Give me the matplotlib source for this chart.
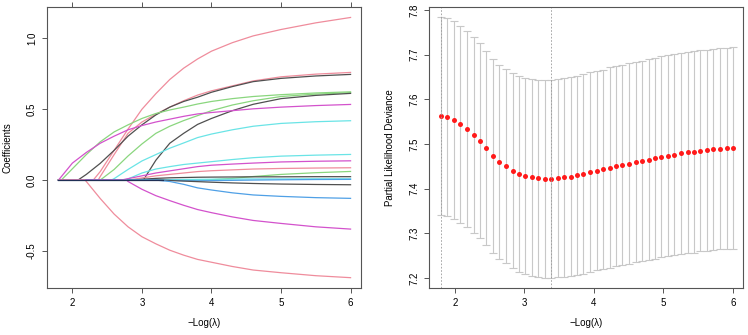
import matplotlib
matplotlib.use('Agg')
import matplotlib.pyplot as plt

plt.rcParams['font.family'] = ['Liberation Sans', 'DejaVu Sans']

# common -log(lambda) grid for the coefficient paths
grid = [1.8, 2.0, 2.2, 2.4, 2.6, 2.8, 3.0, 3.2, 3.4, 3.6, 3.8, 4.0, 4.3, 4.6, 5.0, 5.5, 6.0]

# entry point, colour name and values on grid after entry, for each variable
coef_entry = [2.30, 2.37, 2.08, 1.84, 2.40, 3.02, 1.80, 2.56, 2.74, 2.70, 2.80,
              3.90, 2.90, 3.30, 3.30, 3.20, 3.20, 2.78, 2.18]
coef_color = ['red', 'red', 'black', 'green', 'green', 'black', 'magenta', 'cyan', 'cyan',
              'magenta', 'red', 'green', 'black', 'cyan', 'blue', 'black', 'blue', 'magenta', 'red']
coef_vals = [
    [0.06, 0.21, 0.36, 0.50, 0.61, 0.71, 0.79, 0.855, 0.91, 0.97, 1.018, 1.063, 1.11, 1.148],
    [0.025, 0.18, 0.33, 0.41, 0.465, 0.515, 0.56, 0.60, 0.63, 0.665, 0.70, 0.729, 0.748, 0.760],
    [0.04, 0.118, 0.21, 0.31, 0.39, 0.46, 0.515, 0.555, 0.585, 0.62, 0.66, 0.695, 0.718, 0.735, 0.746],
    [0.08, 0.18, 0.27, 0.34, 0.39, 0.435, 0.47, 0.495, 0.515, 0.537, 0.555, 0.575, 0.59, 0.603, 0.615, 0.623],
    [0.075, 0.17, 0.255, 0.33, 0.38, 0.42, 0.455, 0.49, 0.53, 0.56, 0.59, 0.607, 0.617],
    [0.14, 0.26, 0.33, 0.393, 0.435, 0.49, 0.535, 0.575, 0.598, 0.612],
    [0.12, 0.195, 0.26, 0.31, 0.355, 0.385, 0.41, 0.43, 0.45, 0.467, 0.477, 0.49, 0.503, 0.515, 0.526, 0.534],
    [0.01, 0.075, 0.135, 0.18, 0.225, 0.262, 0.30, 0.325, 0.355, 0.38, 0.40, 0.412, 0.419],
    [0.008, 0.05, 0.078, 0.095, 0.11, 0.12, 0.13, 0.145, 0.158, 0.169, 0.176, 0.181],
    [0.01, 0.03, 0.05, 0.065, 0.08, 0.095, 0.105, 0.113, 0.12, 0.128, 0.133, 0.136],
    [0.015, 0.03, 0.04, 0.05, 0.06, 0.066, 0.072, 0.078, 0.082, 0.085, 0.087],
    [0.003, 0.012, 0.025, 0.04, 0.052, 0.061],
    [0.006, 0.012, 0.016, 0.018, 0.02, 0.021, 0.022, 0.023, 0.023, 0.024, 0.024],
    [0.002, 0.004, 0.005, 0.006, 0.007, 0.008, 0.008, 0.009, 0.009],
    [-0.002, -0.004, -0.005, -0.004, -0.002, 0.0, 0.002, 0.004, 0.005],
    [-0.003, -0.007, -0.011, -0.015, -0.02, -0.024, -0.028, -0.031, -0.033],
    [-0.01, -0.03, -0.055, -0.07, -0.09, -0.105, -0.115, -0.124, -0.129],
    [-0.01, -0.065, -0.11, -0.145, -0.178, -0.208, -0.23, -0.26, -0.285, -0.306, -0.33, -0.346],
    [-0.01, -0.13, -0.24, -0.33, -0.40, -0.45, -0.495, -0.53, -0.56, -0.58, -0.61, -0.635, -0.654, -0.675, -0.689],
]

palette = {'black': '#505050', 'red': '#ef8c9c', 'green': '#8ad67e', 'blue': '#4fa0e6',
           'cyan': '#6ae4e6', 'magenta': '#d352cc'}

# cross-validation curve
neg_log_lambda = [1.80, 1.89, 1.99, 2.08, 2.17, 2.27, 2.36, 2.45, 2.55, 2.64, 2.73, 2.83,
                  2.92, 3.01, 3.11, 3.20, 3.29, 3.39, 3.48, 3.57, 3.67, 3.76, 3.85, 3.95,
                  4.04, 4.13, 4.23, 4.32, 4.41, 4.51, 4.60, 4.69, 4.79, 4.88, 4.97, 5.07,
                  5.16, 5.25, 5.35, 5.44, 5.53, 5.63, 5.72, 5.81, 5.91, 6.00]
cvm = [7.562, 7.560, 7.554, 7.544, 7.533, 7.520, 7.507, 7.491, 7.474, 7.460, 7.450, 7.440,
       7.433, 7.428, 7.425, 7.423, 7.422, 7.422, 7.424, 7.425, 7.427, 7.430, 7.433, 7.437,
       7.440, 7.443, 7.447, 7.450, 7.453, 7.456, 7.459, 7.462, 7.465, 7.468, 7.471, 7.474,
       7.476, 7.479, 7.481, 7.482, 7.485, 7.486, 7.488, 7.489, 7.490, 7.491]
cvsd = [0.221, 0.221, 0.221, 0.220, 0.219, 0.219, 0.218, 0.217, 0.217, 0.217, 0.217, 0.218,
        0.219, 0.219, 0.220, 0.220, 0.221, 0.221, 0.222, 0.222, 0.223, 0.223, 0.223, 0.223,
        0.223, 0.223, 0.224, 0.224, 0.224, 0.224, 0.224, 0.224, 0.224, 0.225, 0.225, 0.225,
        0.225, 0.225, 0.225, 0.225, 0.225, 0.225, 0.225, 0.225, 0.225, 0.225]
lambda_1se = 1.80
lambda_min = 3.39

fig = plt.figure(figsize=(7.48, 3.35), dpi=100)
ax1 = fig.add_axes([0.0624, 0.1394, 0.4202, 0.8406])
ax2 = fig.add_axes([0.5739, 0.1394, 0.4198, 0.8406])

# left: coefficient paths
for ent, cname, vals in zip(coef_entry, coef_color, coef_vals):
    xs = [grid[0], ent] + [g for g in grid if g > ent + 1e-9]
    ys = [0.0, 0.0] + vals
    ax1.plot(xs, ys, color=palette[cname], lw=0.9)
ax1.plot([grid[0], 3.3], [0, 0], color='#1f2f55', lw=0.9, zorder=3)
ax1.set_xlim(1.63, 6.15)
ax1.set_ylim(-0.764, 1.224)
ax1.set_yticks([-0.5, 0.0, 0.5, 1.0])
ax1.set_yticklabels(['-0.5', '0.0', '0.5', '1.0'])
ax1.set_ylabel('Coefficients')
ax1.tick_params(axis='x', top=True, labeltop=False)

# right: cross-validation error
ax2.errorbar(neg_log_lambda, cvm, yerr=cvsd, fmt='none', ecolor='#c8c8c8',
             elinewidth=0.8, capsize=2.8, capthick=0.8)
ax2.plot(neg_log_lambda, cvm, 'o', color='#ff1a1a', ms=3.6, mec='none')
ax2.axvline(lambda_1se, color='#9a9a9a', lw=0.6, ls=(0, (2, 2)))
ax2.axvline(lambda_min, color='#9a9a9a', lw=0.6, ls=(0, (2, 2)))
ax2.set_xlim(1.632, 6.15)
ax2.set_ylim(7.177, 7.807)
ax2.set_yticks([7.2, 7.3, 7.4, 7.5, 7.6, 7.7, 7.8])
ax2.set_ylabel('Partial Likelihood Deviance')

for ax in (ax1, ax2):
    ax.set_xticks([2, 3, 4, 5, 6])
    ax.set_xlabel('\u2212Log(\u03bb)', fontsize=7)
    ax.xaxis.set_label_coords(0.5, -0.105)
    ax.yaxis.set_label_coords(-0.109, 0.5)
    ax.yaxis.label.set_fontsize(7)
    ax.tick_params(length=3.6, width=0.7, color='#555555', labelsize=7, pad=3.5)
    ax.tick_params(axis='y', labelrotation=90)
    for lab in ax.get_yticklabels():
        lab.set_va('center')
    for sp in ax.spines.values():
        sp.set_color('#555555')
        sp.set_linewidth(0.8)

fig.savefig('out.png', dpi=100)
